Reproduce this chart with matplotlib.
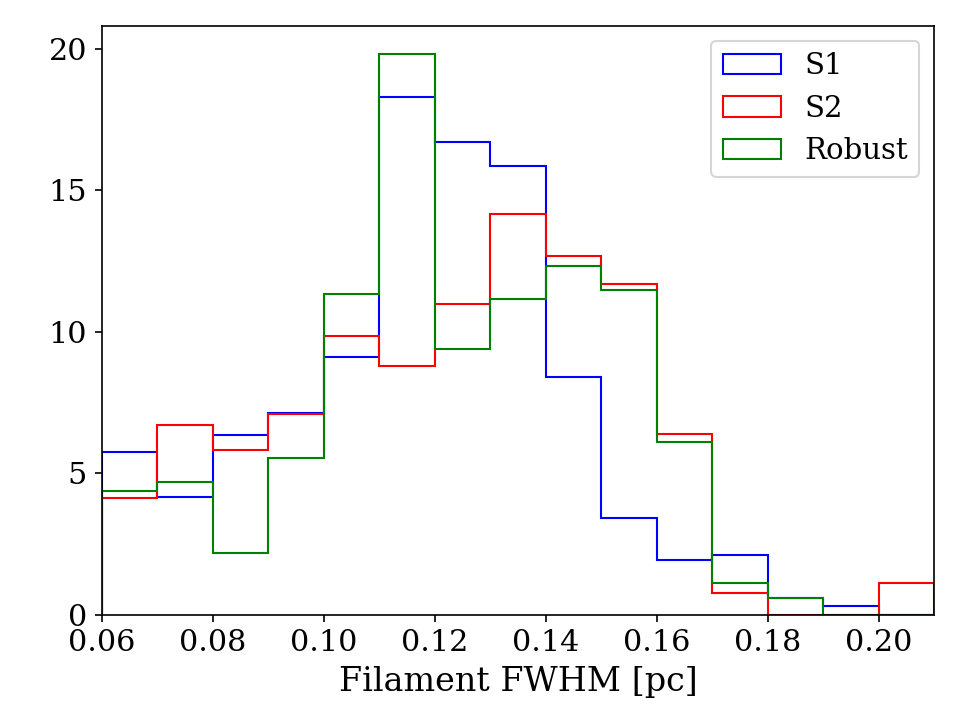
import numpy as np
import matplotlib.pyplot as plt

plt.rcParams['font.family'] = 'DejaVu Serif'

# bin edges in pc
edges = np.round(np.arange(0.06, 0.2101, 0.01), 3)

s1 = [5.76, 4.17, 6.36, 7.14, 9.12, 18.30, 16.71, 15.87, 8.41, 3.43, 1.94, 2.12, 0.60, 0.33, 0.0]
s2 = [4.13, 6.71, 5.83, 7.10, 9.86, 8.80, 10.99, 14.17, 12.69, 11.70, 6.40, 0.77, 0.0, 0.0, 1.11]
robust = [4.38, 4.70, 2.19, 5.55, 11.34, 19.82, 9.40, 11.17, 12.33, 11.48, 6.11, 1.13, 0.60, 0.0, 0.0]

fig, ax = plt.subplots(figsize=(6.4, 4.8), dpi=150)

centers = edges[:-1] + 0.005
ax.hist(centers, bins=edges, weights=s1, histtype='step', color='blue', label='S1')
ax.hist(centers, bins=edges, weights=s2, histtype='step', color='red', label='S2')
ax.hist(centers, bins=edges, weights=robust, histtype='step', color='green', label='Robust')

ax.set_xlim(0.06, 0.21)
ax.set_ylim(0, 20.8)
ax.set_xticks([0.06, 0.08, 0.10, 0.12, 0.14, 0.16, 0.18, 0.20])
ax.set_yticks([0, 5, 10, 15, 20])
ax.tick_params(labelsize=14.5)
ax.set_xlabel('Filament FWHM [pc]', fontsize=16)
ax.legend(fontsize=14)

plt.subplots_adjust(left=0.106, right=0.973, top=0.964, bottom=0.146)
plt.savefig('out.png')
